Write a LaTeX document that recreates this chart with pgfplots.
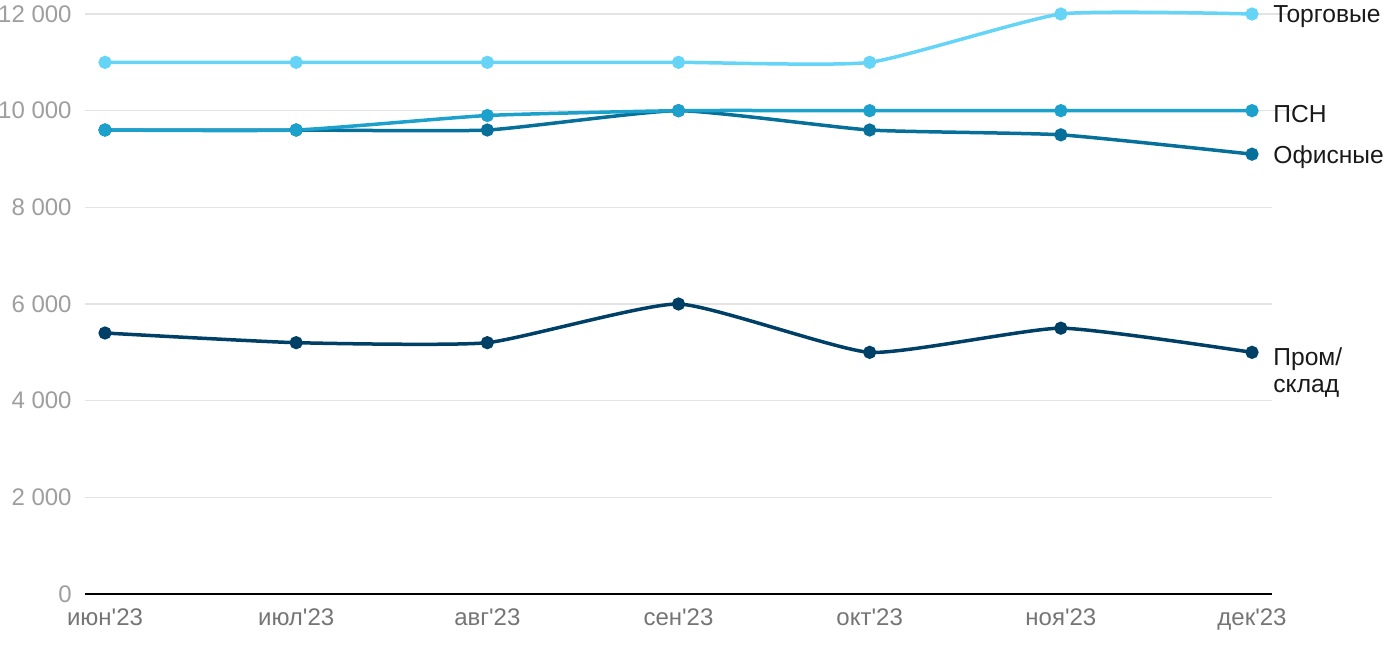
\documentclass[border=0pt]{standalone}
\usepackage{pgfplots}
\pgfplotsset{compat=1.18}
\usepackage{fontspec}
\setmainfont{Liberation Sans}
\definecolor{ctorg}{HTML}{66D4F7}
\definecolor{cpsn}{HTML}{1BA1CC}
\definecolor{cofis}{HTML}{06709A}
\definecolor{cprom}{HTML}{003F66}
\definecolor{cgrid}{HTML}{E3E3E3}
\definecolor{cytick}{HTML}{9E9E9E}
\definecolor{cxtick}{HTML}{757575}
\begin{document}
\begin{tikzpicture}
\useasboundingbox (-42.5pt,-28pt) rectangle (657.5pt,297pt);
\begin{axis}[
  at={(0,0)}, anchor=south west,
  scale only axis, width=593.5pt, height=290pt,
  xmin=-0.1046, xmax=6.1046, ymin=0, ymax=12000,
  clip=false,
  axis lines*=left,
  axis line style={-},
  y axis line style={draw=none},
  x axis line style={draw=black, line width=1pt},
  major tick length=0pt,
  xtick={0,1,2,3,4,5,6},
  xticklabels={июн\textquotesingle23,июл\textquotesingle23,авг\textquotesingle23,сен\textquotesingle23,окт\textquotesingle23,ноя\textquotesingle23,дек\textquotesingle23},
  ytick={0,2000,4000,6000,8000,10000,12000},
  scaled y ticks=false,
  ymajorgrids,
  grid style={cgrid, line width=0.6pt},
  /pgf/number format/.cd, 1000 sep={\ }, assume math mode=true,
  /pgfplots/.cd,
  tick label style={font=\fontsize{12}{14}\selectfont},
  yticklabel style={cytick, anchor=east, inner sep=0pt, xshift=-6.5pt},
  xticklabel style={cxtick, anchor=north, inner sep=0pt, yshift=-7pt},
  every axis plot/.append style={line width=1.75pt, smooth, tension=0.3, mark=*, mark size=2.4pt, mark options={solid}},
]
\addplot[color=cprom] coordinates {(0,5400) (1,5200) (2,5200) (3,6000) (4,5000) (5,5500) (6,5000)};
\addplot[color=cofis] coordinates {(0,9600) (1,9600) (2,9600) (3,10000) (4,9600) (5,9500) (6,9100)};
\addplot[color=cpsn] coordinates {(0,9600) (1,9600) (2,9900) (3,10000) (4,10000) (5,10000) (6,10000)};
\addplot[color=ctorg] coordinates {(0,11000) (1,11000) (2,11000) (3,11000) (4,11000) (5,12000) (6,12000)};
\draw[cgrid, line width=0.6pt] (axis cs:6,12000) -- +(10pt,0) (axis cs:6,10000) -- +(10pt,0);
\node[anchor=west, inner sep=0pt, xshift=10.5pt, yshift=-1.5pt, font=\fontsize{12.3}{14}\selectfont, text=black!90] at (axis cs:6,12000) {Торговые};
\node[anchor=west, inner sep=0pt, xshift=10.5pt, yshift=-1.5pt, font=\fontsize{12.3}{14}\selectfont, text=black!90] at (axis cs:6,10000) {ПСН};
\node[anchor=west, inner sep=0pt, xshift=10.5pt, yshift=-1.5pt, font=\fontsize{12.3}{14}\selectfont, text=black!90] at (axis cs:6,9100) {Офисные};
\node[anchor=west, inner sep=0pt, xshift=10.5pt, yshift=-1.5pt, align=left, font=\fontsize{12.3}{13.5}\selectfont, text=black!90] at (axis cs:6,4640) {Пром/\\склад};
\end{axis}
\end{tikzpicture}
\end{document}
